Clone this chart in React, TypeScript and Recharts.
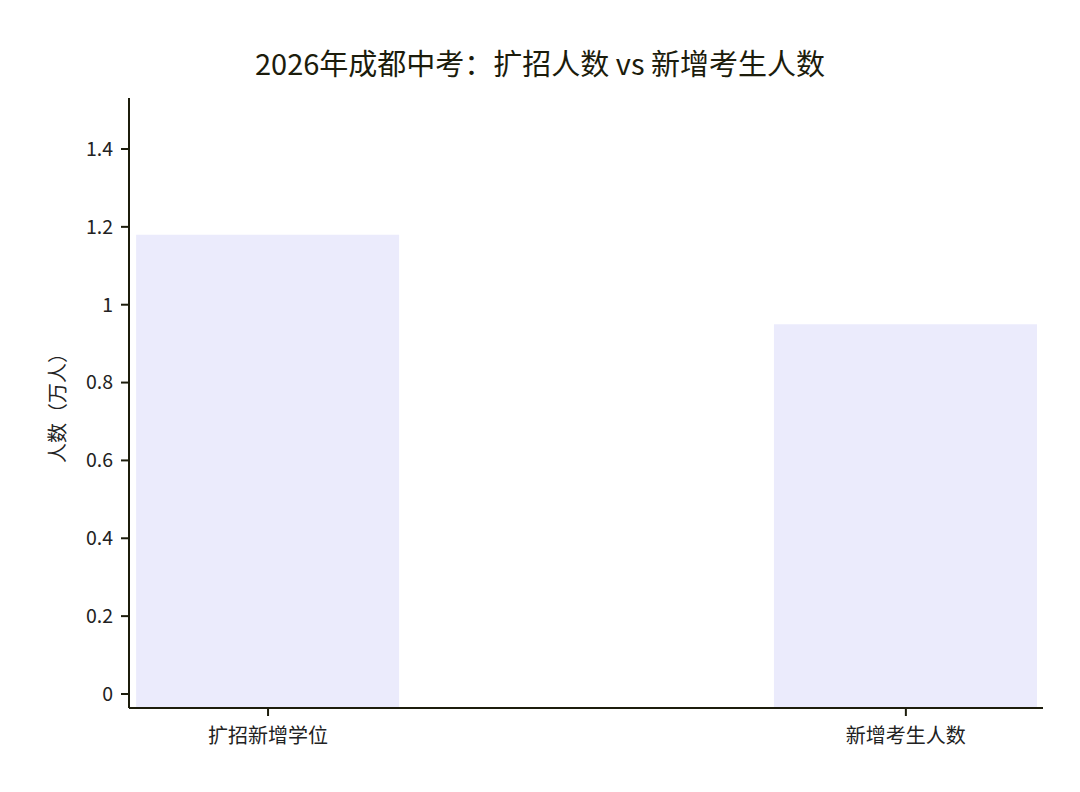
import React from 'react';
import { BarChart, Bar, XAxis, YAxis, Cell } from 'recharts';

const categories = ['扩招新增学位', '新增考生人数'];
const values = [1.18, 0.95];
const yTicks = [0, 0.2, 0.4, 0.6, 0.8, 1, 1.2, 1.4];

const Y_MIN = -0.036;
const Y_MAX = 1.531;
const FONT = '"Noto Sans CJK SC", "Noto Sans", sans-serif';
const INK = '#1c1c0c';

const data = categories.map((name, i) => ({
  x: i,
  name,
  // bars start at the bottom of the axis, like the source chart
  range: [Y_MIN, values[i]],
}));

export default function App() {
  return (
    <div style={{ position: 'absolute', left: 0, top: 0, width: 1080, height: 792, background: '#fff', fontFamily: FONT }}>
      <div
        style={{
          position: 'absolute',
          top: 42,
          left: 0,
          width: 1080,
          textAlign: 'center',
          fontSize: 29,
          fontWeight: 400,
          color: INK,
          lineHeight: '40px',
        }}
      >
        2026年成都中考：扩招人数 vs 新增考生人数
      </div>
      <BarChart
        width={1080}
        height={792}
        data={data}
        margin={{ top: 98, right: 37, bottom: 0, left: 0 }}
      >
        <XAxis
          type="number"
          dataKey="x"
          domain={[-0.218, 1.215]}
          allowDataOverflow
          ticks={[0, 1]}
          tickFormatter={(v) => categories[v] ?? ''}
          height={84}
          stroke={INK}
          strokeWidth={2}
          tickSize={8}
          tick={{ fontSize: 20, fill: '#222', fontFamily: FONT }}
          tickMargin={13}
        />
        <YAxis
          type="number"
          domain={[Y_MIN, Y_MAX]}
          allowDataOverflow
          ticks={yTicks}
          tickFormatter={(v) => String(v)}
          width={129}
          stroke={INK}
          strokeWidth={2}
          tickSize={8}
          tick={{ fontSize: 19.5, fill: '#222', fontFamily: FONT }}
          tickMargin={8}
          label={{
            value: '人数（万人）',
            angle: -90,
            position: 'insideLeft',
            offset: 58,
            style: { fontSize: 20, fill: '#222', fontFamily: FONT, textAnchor: 'middle' },
          }}
        />
        <Bar dataKey="range" barSize={263} isAnimationActive={false}>
          {data.map((d) => (
            <Cell key={d.name} fill="#ebebfc" />
          ))}
        </Bar>
      </BarChart>
    </div>
  );
}
